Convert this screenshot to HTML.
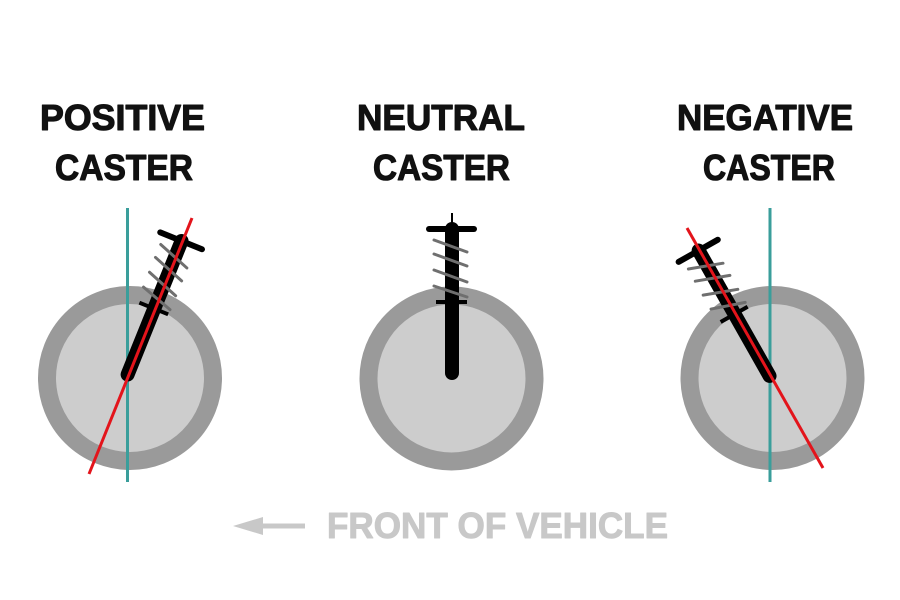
<!DOCTYPE html>
<html>
<head>
<meta charset="utf-8">
<style>
html,body{margin:0;padding:0;background:#fff;}
svg{display:block;}
text{font-family:"Liberation Sans",sans-serif;font-weight:bold;}
</style>
</head>
<body>
<svg width="900" height="600" viewBox="0 0 900 600" xmlns="http://www.w3.org/2000/svg">
  <rect width="900" height="600" fill="#fff"/>
  <defs>
    <g id="strut">
      <line x1="0" y1="-151" x2="0" y2="-7" stroke="#000" stroke-width="14" stroke-linecap="round"/>
      <line x1="-23" y1="-151" x2="22" y2="-151" stroke="#000" stroke-width="6" stroke-linecap="round"/>
      <g stroke="#6f6f6f" stroke-width="3" stroke-linecap="round">
        <line x1="-18" y1="-140" x2="15" y2="-128"/>
        <line x1="-18" y1="-126" x2="15" y2="-114"/>
        <line x1="-18" y1="-110" x2="15" y2="-98"/>
        <line x1="-18" y1="-94" x2="15" y2="-83"/>
      </g>
      <line x1="-16" y1="-78" x2="15" y2="-78" stroke="#000" stroke-width="4"/>
    </g>
  </defs>

  <!-- Titles -->
  <g fill="#111" stroke="#111" stroke-width="1.1" stroke-linejoin="round">
  <text x="40" y="130" font-size="36" textLength="165" lengthAdjust="spacingAndGlyphs">POSITIVE</text>
  <text x="55" y="180" font-size="36" textLength="138" lengthAdjust="spacingAndGlyphs">CASTER</text>
  <text x="357" y="130" font-size="36" textLength="168" lengthAdjust="spacingAndGlyphs">NEUTRAL</text>
  <text x="373" y="180" font-size="36" textLength="137" lengthAdjust="spacingAndGlyphs">CASTER</text>
  <text x="677" y="130" font-size="36" textLength="176" lengthAdjust="spacingAndGlyphs">NEGATIVE</text>
  <text x="703" y="180" font-size="36" textLength="132" lengthAdjust="spacingAndGlyphs">CASTER</text>
  </g>

  <!-- Positive -->
  <circle cx="130" cy="378" r="83" fill="#cdcdcd" stroke="#9a9a9a" stroke-width="18"/>
  <line x1="127.5" y1="208" x2="127.5" y2="482" stroke="#3a9e9b" stroke-width="3"/>
  <g transform="translate(125,381) rotate(22)"><use href="#strut"/></g>
  <line x1="192" y1="218" x2="89" y2="474" stroke="#e3141b" stroke-width="3"/>

  <!-- Neutral -->
  <circle cx="451.5" cy="378.5" r="83" fill="#cdcdcd" stroke="#9a9a9a" stroke-width="18"/>
  <line x1="452" y1="213" x2="452" y2="228" stroke="#000" stroke-width="2"/>
  <g transform="translate(452,380)"><use href="#strut"/></g>

  <!-- Negative -->
  <circle cx="772.5" cy="378" r="83" fill="#cdcdcd" stroke="#9a9a9a" stroke-width="18"/>
  <line x1="770" y1="208" x2="770" y2="482" stroke="#3a9e9b" stroke-width="3"/>
  <g transform="translate(773,382) rotate(-29.5)"><use href="#strut"/></g>
  <line x1="687" y1="228" x2="823" y2="468" stroke="#e3141b" stroke-width="3"/>

  <!-- Front of vehicle -->
  <polygon points="233,526 263,517 263,535" fill="#c8c8c8"/>
  <rect x="260" y="523.5" width="45" height="5" fill="#c8c8c8"/>
  <text x="327" y="538" font-size="36" fill="#c8c8c8" stroke="#c8c8c8" stroke-width="1" stroke-linejoin="round" textLength="341" lengthAdjust="spacingAndGlyphs">FRONT OF VEHICLE</text>
</svg>
</body>
</html>
